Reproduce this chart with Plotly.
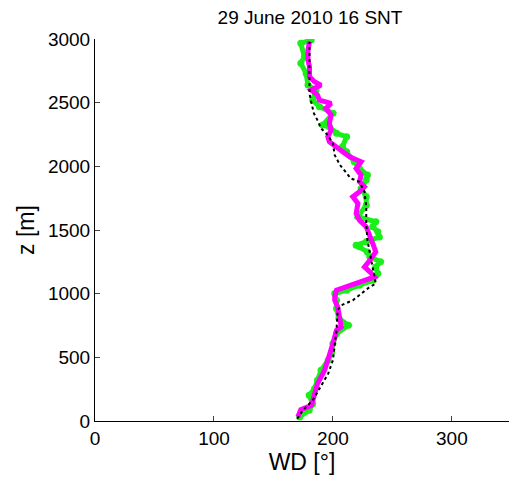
import plotly.graph_objects as go

# Magenta profile
mag_wd = [170.5,173,182,183.5,187,193,196,199,200,201.5,203,207,205,204,201.5,201.5,203,211.5,216.7,228,235,231,226.5,231,236,233.5,231,228,222.3,219.5,221,216.7,222.3,226.5,222.3,223.7,219.5,223.7,214,208,203,197,195.7,198.5,197,198.5,194,198.5,188.7,187,181.7,190,184.5,180.3,180.3,179,179,180.3]
mag_z = [31,89,123,175,293,398,477,555,608,660,713,739,817,896,948,975,1027,1053,1079,1105,1132,1171,1210,1263,1328,1394,1459,1525,1577,1630,1708,1761,1800,1839,1879,1931,1983,2036,2075,2114,2154,2193,2232,2285,2337,2403,2455,2494,2520,2560,2599,2638,2665,2704,2782,2835,2913,2979]

# Green profile
grn_wd = [172,180,183,180,184.5,187,190,196,199,200,203,213,205,203,203,201.5,211.5,222.3,233.5,237.7,236,240,231,229,222.3,219.5,228,239,237.7,233.5,236,221,228,228,223.7,228,229,222.3,218,211.5,208,211.5,203,197,191.5,200,188.7,183,185.8,179,177.5,173,176,173,181.7]
grn_z = [31,84,136,202,254,320,398,477,542,608,686,752,804,883,948,1001,1027,1066,1105,1158,1210,1250,1289,1328,1368,1381,1407,1446,1486,1525,1564,1604,1695,1761,1826,1892,1931,1983,2036,2114,2154,2232,2259,2311,2324,2416,2468,2520,2599,2638,2730,2809,2861,2966,2992]

# Black dotted profile
blk_wd = [170,174.7,183,188.7,196,200,201.5,203,204,207,216.7,223.7,231,236,234.4,233,231,229,228,228,226.5,222.3,215,211.5,206,201.5,200,195.7,190,187,184,181.7,180.3,180.3,180.3,179.8,180.3]
blk_z = [18,84,162,254,372,477,608,713,870,909,948,1001,1053,1079,1158,1237,1328,1420,1551,1682,1800,1879,1905,1944,2010,2088,2180,2245,2298,2363,2416,2507,2573,2651,2782,2913,2979]

x_ticks = [0, 100, 200, 300]
y_ticks = [0, 500, 1000, 1500, 2000, 2500, 3000]

fig = go.Figure()
fig.add_trace(go.Scatter(x=grn_wd, y=grn_z, mode="lines+markers",
                         line=dict(color="#1aef1a", width=5),
                         marker=dict(color="#1aef1a", size=7), showlegend=False))
fig.add_trace(go.Scatter(x=mag_wd, y=mag_z, mode="lines",
                         line=dict(color="#ff00ff", width=5), showlegend=False))
fig.add_trace(go.Scatter(x=blk_wd, y=blk_z, mode="lines",
                         line=dict(color="black", width=2, dash="dot"), showlegend=False))

font = "Liberation Sans, Arial, sans-serif"
fig.update_layout(
    width=509, height=478,
    margin=dict(l=95, r=0, t=39, b=57),
    paper_bgcolor="white", plot_bgcolor="white",
    font=dict(family=font, color="black"),
    title=dict(text="29 June 2010 16 SNT", x=310 / 509, xref="container", y=1 - 17 / 478, yref="container",
               xanchor="center", yanchor="middle", font=dict(size=19, family=font, color="black")),
    xaxis=dict(range=[0, 348], tickvals=x_ticks, ticks="inside", ticklen=5,
               showline=True, linecolor="black", linewidth=1, showgrid=False, zeroline=False,
               tickfont=dict(size=19), title=dict(text="WD [°]", font=dict(size=23), standoff=2)),
    yaxis=dict(range=[0, 3000], tickvals=y_ticks, ticks="inside", ticklen=5,
               showline=True, linecolor="black", linewidth=1, showgrid=False, zeroline=False,
               tickfont=dict(size=19), title=dict(text="z [m]", font=dict(size=23), standoff=6)),
)
fig.write_html("out.html", config={"displayModeBar": False},
               post_script="document.body.style.margin='0';document.body.style.overflow='hidden';")
